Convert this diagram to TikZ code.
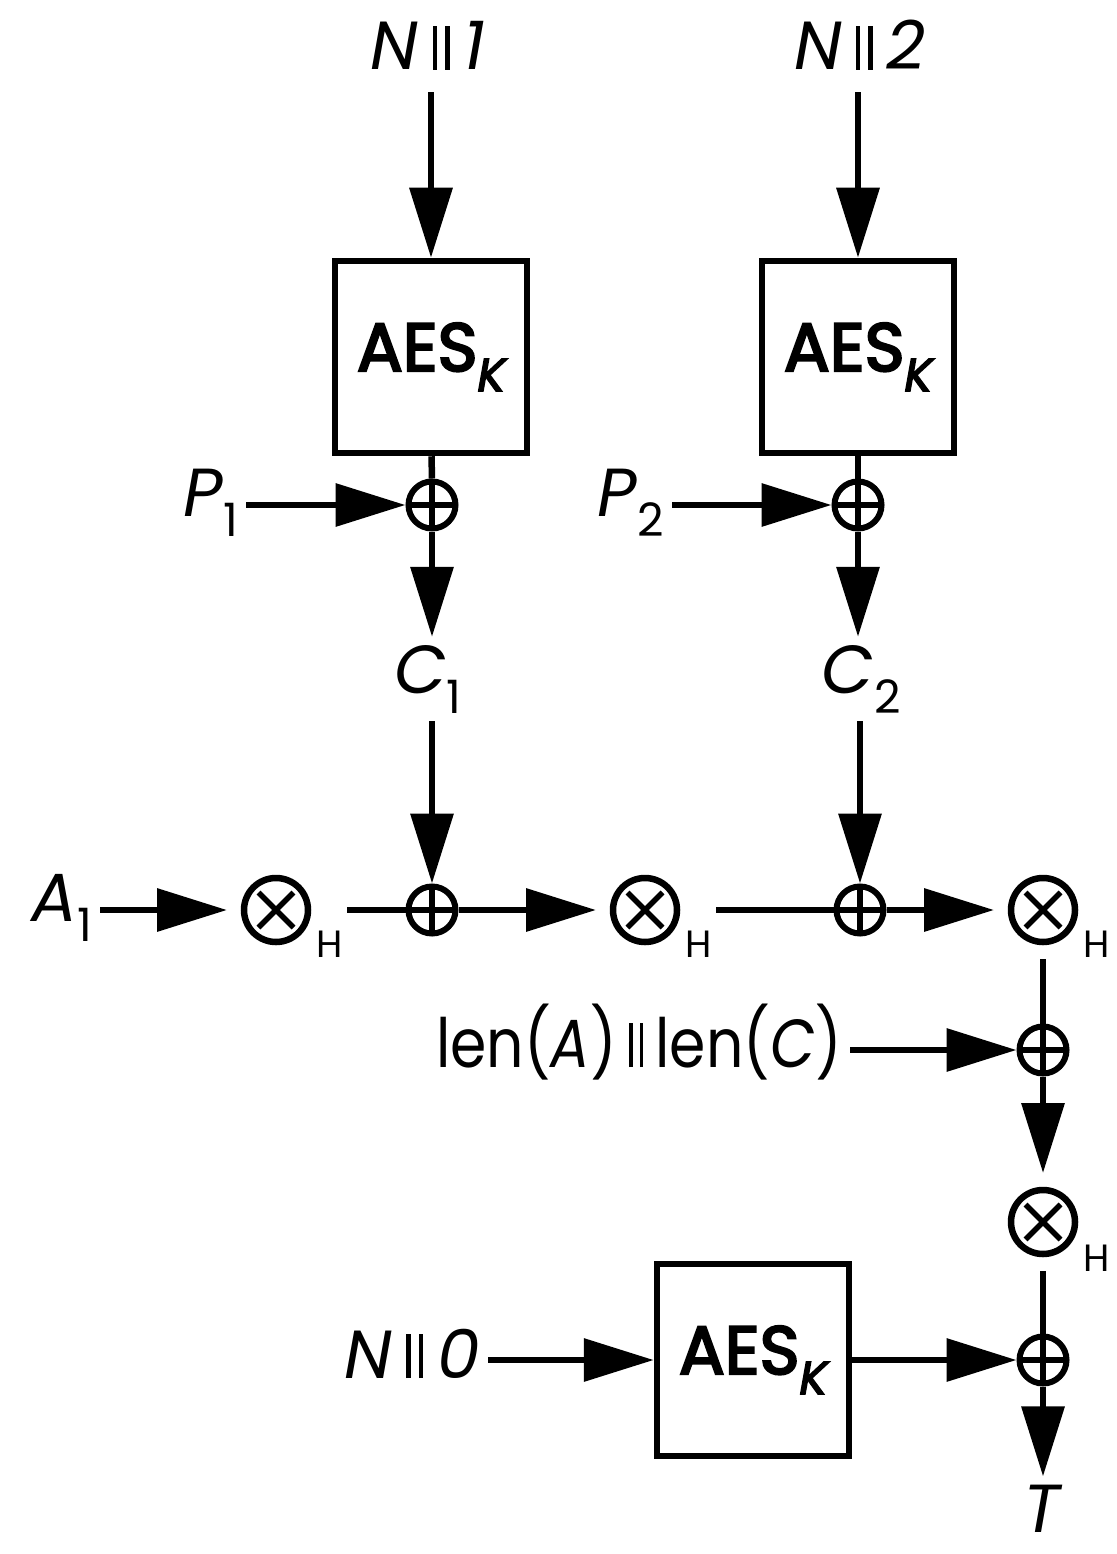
\documentclass[tikz,border=0pt]{standalone}
\usepackage{fontspec}
\setmainfont{Poppins}
\newfontfamily\aesfont[FakeBold=3.5]{Poppins}
\usetikzlibrary{arrows.meta}

\newcommand{\cc}{\kern14pt\rule{4.5pt}{44pt}\kern8pt\rule{4.5pt}{44pt}\kern14pt}
\newcommand{\lo}[1]{\raisebox{-20pt}{\fontsize{46}{46}\selectfont #1}}

\tikzset{
  lbl/.style={inner sep=8pt, font=\fontsize{68}{80}\selectfont},
  hsub/.style={inner sep=4pt, font=\fontsize{38}{40}\selectfont},
  aesbox/.style={draw, line width=6.5pt, minimum width=192pt, minimum height=192pt, inner sep=0pt, font=\fontsize{68}{80}\selectfont},
  xorop/.style={circle, draw, line width=6pt, minimum size=47pt, inner sep=0pt,
    path picture={\draw[line width=5.5pt] (path picture bounding box.north) -- (path picture bounding box.south)
      (path picture bounding box.west) -- (path picture bounding box.east);}},
  mulop/.style={circle, draw, line width=6.5pt, minimum size=64pt, inner sep=0pt, outer sep=17pt,
    path picture={\draw[line width=5.5pt]
      ([shift={(-17.5pt,-17.5pt)}]path picture bounding box.center) -- ([shift={(17.5pt,17.5pt)}]path picture bounding box.center)
      ([shift={(-17.5pt,17.5pt)}]path picture bounding box.center) -- ([shift={(17.5pt,-17.5pt)}]path picture bounding box.center);}},
  wire/.style={line width=6.5pt},
  flow/.style={wire, -{Triangle[length=70pt,width=42pt]}}
}

\begin{document}
\begin{tikzpicture}[x=1pt,y=1pt,yscale=-1]
\useasboundingbox (0,0) rectangle (1116,1554);

% counter blocks
\node[lbl, anchor=base] (n1) at (428,70) {\textit{N}\cc\textit{1}};
\node[lbl, anchor=base] (n2) at (860,70) {\textit{N}\cc\textit{2}};
\node[aesbox] (aes1) at (431,357) {{\aesfont AES}\lo{\aesfont\itshape K}};
\node[aesbox] (aes2) at (858,357) {{\aesfont AES}\lo{\aesfont\itshape K}};
\node[xorop] (x1) at (432,505) {};
\node[xorop] (x2) at (858,505) {};
\node[lbl, anchor=base east] (p1) at (246,516) {\textit{P}\lo{1}};
\node[lbl, anchor=base east] (p2) at (672,516) {\textit{P}\lo{2}};
\node[lbl, anchor=base] (c1) at (428,693) {\textit{C}\lo{1}};
\node[lbl, anchor=base] (c2) at (861,693) {\textit{C}\lo{2}};

% GHASH row
\node[lbl, anchor=base east] (a1) at (100,921) {\textit{A}\lo{1}};
\node[mulop] (m1) at (276,910) {};
\node[hsub] (h1) at (330,944) {H};
\node[xorop] (x3) at (432,910) {};
\node[mulop] (m2) at (645,910) {};
\node[hsub] (h2) at (699,944) {H};
\node[xorop] (x4) at (860,910) {};
\node[mulop] (m3) at (1043,910) {};
\node[hsub] (h3) at (1097,944) {H};

% lengths
\node[lbl, anchor=base east] (len) at (850,1067) {\scalebox{0.86}[1]{len(\textit{A})\cc len(\textit{C})}};
\node[xorop] (x5) at (1043,1050) {};
\node[mulop] (m4) at (1043,1222) {};
\node[hsub] (h4) at (1097,1258) {H};

% tag
\node[lbl, anchor=base east] (n0) at (488,1378) {\textit{N}\cc\textit{0}};
\node[aesbox] (aes3) at (753,1360) {{\aesfont AES}\lo{\aesfont\itshape K}};
\node[xorop] (x6) at (1043,1360) {};
\node[lbl, anchor=base, inner sep=2pt] (t) at (1043,1532) {\textit{T}};

\draw[flow, shorten <=14pt] (n1.south -| aes1) -- (aes1);
\draw[flow, shorten <=14pt] (n2.south -| aes2) -- (aes2);
\draw[wire] (aes1) -- (x1);
\draw[wire] (aes2) -- (x2);
\draw[flow] (p1.east |- x1) -- (x1);
\draw[flow] (p2.east |- x2) -- (x2);
\draw[flow] (x1) -- (c1.north -| x1);
\draw[flow] (x2) -- (c2.north -| x2);
\draw[flow] (c1.south -| x3) -- (x3);
\draw[flow] (c2.south -| x4) -- (x4);

\draw[flow] (a1.east |- m1) -- (m1);
\draw[wire] (h1.east |- m1) -- (x3);
\draw[flow] (x3) -- (m2);
\draw[wire] (h2.east |- m2) -- (x4);
\draw[flow] (x4) -- (m3);
\draw[wire] (m3) -- (x5);
\draw[flow] (len.east |- x5) -- (x5);
\draw[flow] (x5) -- (m4);
\draw[wire] (m4) -- (x6);

\draw[flow] (n0.east |- aes3) -- (aes3);
\draw[flow] (aes3) -- (x6);
\draw[flow, shorten >=6pt] (x6) -- (t);
\end{tikzpicture}
\end{document}
